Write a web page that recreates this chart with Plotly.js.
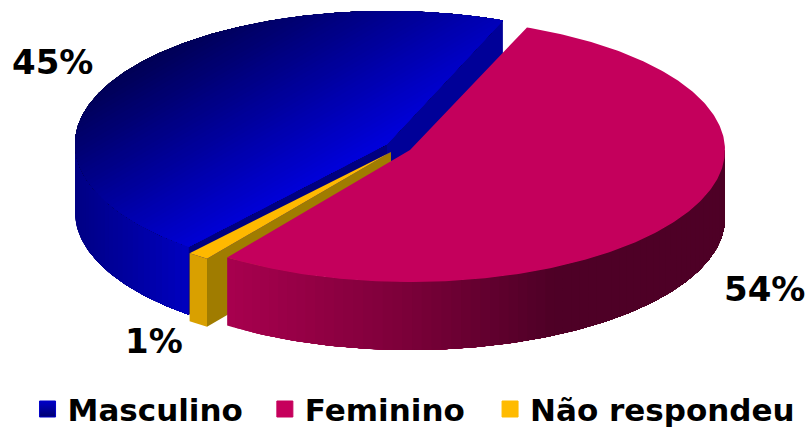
<!DOCTYPE html>
<html><head><meta charset="utf-8">
<script src="https://cdn.plot.ly/plotly-3.0.1.min.js"></script>
<style>html,body{margin:0;padding:0;background:#fff}#c{width:810px;height:430px}</style></head>
<body><div id="c"></div>
<script>
const categories = ["Masculino", "Feminino", "Não respondeu"];
const values = [45.1, 53.8, 1.1];
const swatchColors = ["#0000c8", "#c6005c", "#ffbb00"];
const legendLeft = [0.034, 0.327, 0.605];
const labelAnchors = [[52, 62], [764, 289], [154, 341]];

const W = 810, H = 430, depth = 68, startDeg = 21.8;
const geo = {
  blue:   {cx: 387, cy: 144, rx: 312, ry: 133},
  pink:   {cx: 410, cy: 150, rx: 315, ry: 132},
  yellow: {cx: 391, cy: 152, rx: 317, ry: 131}
};
const total = values.reduce((a, b) => a + b, 0);
const pinkA = [startDeg, startDeg + values[1] / total * 360];
const yellowA = [pinkA[1], pinkA[1] + values[2] / total * 360];
const blueA = [yellowA[1], yellowA[1] + values[0] / total * 360];

const rad = d => d * Math.PI / 180;
const pt = (g, t, dy = 0) => [g.cx + g.rx * Math.sin(rad(t)), g.cy - g.ry * Math.cos(rad(t)) + dy];
function arc(g, a, b, dy = 0) {
  const m = Math.max(2, Math.ceil(Math.abs(b - a) * 1.5));
  const o = [];
  for (let i = 0; i <= m; i++) o.push(pt(g, a + (b - a) * i / m, dy));
  return o;
}
function colorAt(stops, v) {
  if (v <= stops[0][0]) return `rgb(${stops[0][1].join(",")})`;
  for (let i = 1; i < stops.length; i++) {
    if (v <= stops[i][0]) {
      const f = (v - stops[i - 1][0]) / (stops[i][0] - stops[i - 1][0]);
      const c = stops[i - 1][1].map((q, k) => Math.round(q + (stops[i][1][k] - q) * f));
      return `rgb(${c.join(",")})`;
    }
  }
  return `rgb(${stops[stops.length - 1][1].join(",")})`;
}
const traces = [];
function poly(points, color) {
  traces.push({
    type: "scatter", mode: "lines", x: points.map(p => p[0]), y: points.map(p => p[1]),
    fill: "toself", fillcolor: color, line: {width: 0},
    hoverinfo: "skip", showlegend: false
  });
}
/* painter's order: each strip covers everything from its start to the far end, so no seams show */
function wall(g, a, b, stops, n) {
  for (let i = 0; i < n; i++) {
    const t0 = a + (b - a) * i / n, t1 = a + (b - a) * (i + 1) / n;
    const xm = pt(g, (t0 + t1) / 2)[0];
    poly(arc(g, t0, b).concat(arc(g, b, t0, depth)), colorAt(stops, xm));
  }
}
function clip(points, f) {
  const out = [];
  for (let i = 0; i < points.length; i++) {
    const p = points[i], q = points[(i + 1) % points.length];
    const fp = f(p), fq = f(q);
    if (fp >= 0) out.push(p);
    if ((fp >= 0) !== (fq >= 0)) {
      const s = fp / (fp - fq);
      out.push([p[0] + (q[0] - p[0]) * s, p[1] + (q[1] - p[1]) * s]);
    }
  }
  return out;
}

/* Masculino */
wall(geo.blue, 270, blueA[0], [[75, [0, 0, 132]], [187, [0, 0, 190]]], 30);
const bStart = pt(geo.blue, blueA[1]), bEnd = pt(geo.blue, blueA[0]), bApex = [geo.blue.cx, geo.blue.cy];
poly([bApex, bEnd, [bEnd[0], bEnd[1] + depth], [bApex[0], bApex[1] + depth]], "#000080");
poly([bApex, bStart, [bStart[0], bStart[1] + depth], [bApex[0], bApex[1] + depth]], "#000098");
const sector = [bApex].concat(arc(geo.blue, blueA[0], blueA[1]));
const blueStops = [[75, [0, 0, 70]], [230, [0, 0, 218]]];
const bandW = 3;
for (let s = 40; s < 320; s += bandW) {
  const part = clip(sector, p => 0.366 * p[0] + 0.625 * p[1] - s);
  if (part.length > 2) poly(part, colorAt(blueStops, s + bandW / 2));
}

/* Não respondeu */
const yApex = [geo.yellow.cx, geo.yellow.cy];
const yA = pt(geo.yellow, yellowA[0]);
poly([yApex, yA, [yA[0], yA[1] + depth], [yApex[0], yApex[1] + depth]], "#a07c00");
poly(arc(geo.yellow, yellowA[0], yellowA[1]).concat(arc(geo.yellow, yellowA[1], yellowA[0], depth)), "#d9a000");
poly([yApex].concat(arc(geo.yellow, yellowA[0], yellowA[1])), "#ffb900");

/* Feminino: wall runs from the cut edge on the left towards the right rim */
wall(geo.pink, pinkA[1], 90, [[229, [168, 0, 78]], [400, [125, 0, 58]], [553, [78, 0, 38]], [725, [78, 0, 38]]], 70);
poly([[geo.pink.cx, geo.pink.cy]].concat(arc(geo.pink, pinkA[0], pinkA[1])), "#c4005c");

/* legend entries */
categories.forEach((c, i) => {
  const marker = {symbol: "square", size: 18, color: swatchColors[i], line: {width: 1, color: swatchColors[i]}};
  if (i === 0) marker.gradient = {type: "vertical", color: "#000070"};
  traces.push({
    type: "scatter", mode: "markers", name: c, x: [null], y: [null], marker,
    legend: i === 0 ? "legend" : "legend" + (i + 1), showlegend: true, hoverinfo: "skip"
  });
});
const legendCfg = i => ({
  xref: "container", yref: "container", orientation: "h",
  x: legendLeft[i], xanchor: "left", y: 0.048, yanchor: "middle",
  bgcolor: "rgba(0,0,0,0)", borderwidth: 0, itemclick: false, itemdoubleclick: false,
  font: {family: "DejaVu Sans", size: 31, color: "#000", weight: 700}, itemwidth: 30
});

const layout = {
  width: W, height: H, margin: {l: 0, r: 0, t: 0, b: 0},
  paper_bgcolor: "#fff", plot_bgcolor: "#fff",
  xaxis: {range: [0, W], visible: false, fixedrange: true},
  yaxis: {range: [H, 0], visible: false, fixedrange: true},
  legend: legendCfg(0), legend2: legendCfg(1), legend3: legendCfg(2),
  annotations: values.map((v, i) => ({
    x: labelAnchors[i][0], y: labelAnchors[i][1], xref: "x", yref: "y", showarrow: false,
    text: "<b>" + Math.round(v) + "%</b>", font: {family: "DejaVu Sans", size: 34, color: "#000"}
  }))
};
const gd = document.getElementById("c");
Plotly.newPlot(gd, traces, layout, {displayModeBar: false}).then(() => {
  /* the legends reserve room below the plot: keep one axis unit equal to one pixel */
  const ya = gd._fullLayout.yaxis, xa = gd._fullLayout.xaxis;
  return Plotly.relayout(gd, {"yaxis.range": [ya._length, 0], "xaxis.range": [0, xa._length]});
});
</script></body></html>
